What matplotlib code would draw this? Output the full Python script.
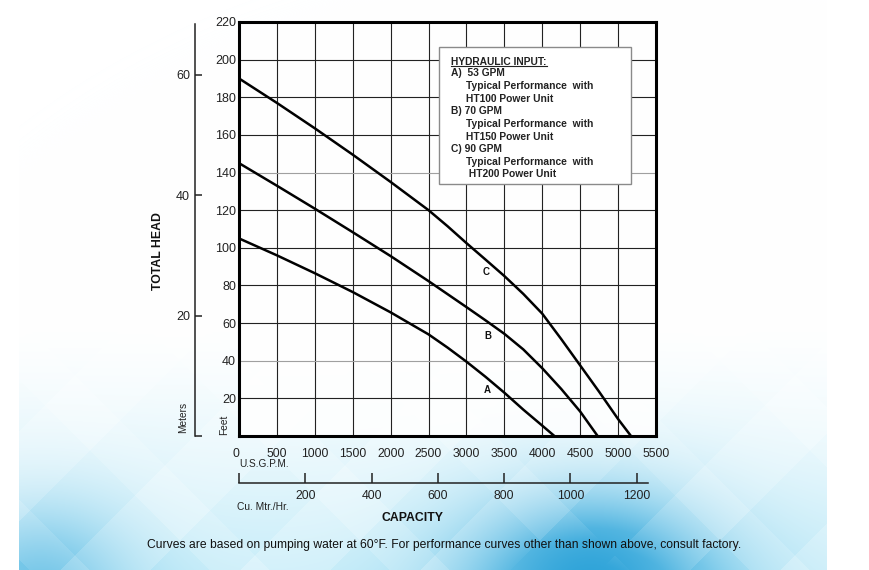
import numpy as np
import matplotlib
matplotlib.use("Agg")
import matplotlib.pyplot as plt
from matplotlib.lines import Line2D
from matplotlib.patches import Rectangle

# ---------------- data ----------------
gpm_ticks = [0, 500, 1000, 1500, 2000, 2500, 3000, 3500, 4000, 4500, 5000, 5500]
feet_ticks = [20, 40, 60, 80, 100, 120, 140, 160, 180, 200, 220]
meter_ticks = [0, 20, 40, 60]
m3h_ticks = [0, 200, 400, 600, 800, 1000, 1200]

curve_a_gpm = [0, 500, 1000, 1500, 2000, 2500, 2750, 3000, 3250, 3500, 3750, 4000, 4160]
curve_a_ft = [105, 96, 86.5, 76.5, 65.7, 54, 47, 39.5, 31.5, 23, 14, 5.5, 0]

curve_b_gpm = [0, 500, 1000, 1500, 2000, 2500, 2750, 3000, 3250, 3500, 3750, 4000, 4250, 4500, 4730]
curve_b_ft = [145, 133, 120.8, 108.3, 95.6, 82.3, 75.4, 68.5, 61.5, 54.3, 46, 36, 25, 13, 0]

curve_c_gpm = [0, 500, 1000, 1500, 2000, 2500, 2750, 3000, 3250, 3500, 3750, 4000, 4250, 4500, 4750, 5000, 5170]
curve_c_ft = [190, 177, 163.5, 149.5, 135, 120, 111.5, 102.5, 93.8, 85, 75.5, 65, 51.5, 37.5, 23.5, 9, 0]

curve_labels = ["A", "B", "C"]
label_pos_gpm = [3280, 3280, 3265]
label_pos_ft = [24.4, 53, 87.3]

legend_title = "HYDRAULIC INPUT:"
legend_lines = ["A)  53 GPM", "Typical Performance  with", "HT100 Power Unit",
                "B) 70 GPM", "Typical Performance  with", "HT150 Power Unit",
                "C) 90 GPM", "Typical Performance  with", " HT200 Power Unit"]
legend_indent = [0, 1, 1, 0, 1, 1, 0, 1, 1]

footer = ("Curves are based on pumping water at 60\u00b0F. For performance curves "
          "other than shown above, consult factory.")

# secondary-scale ranges as drawn in the original chart
meter_axis_max = 68.8
m3h_axis_max = 1258.5

# ---------------- figure ----------------
plt.rcParams['font.family'] = ['Liberation Sans', 'DejaVu Sans']
W, H = 870, 570
fig = plt.figure(figsize=(W / 100, H / 100), dpi=100)
fig.patch.set_facecolor('white')

# background decorative gradient
bg = fig.add_axes([0, 0, 1, 1], zorder=-10)
bg.axis('off')
yy, xx = np.mgrid[0:H, 0:W].astype(float)
t = np.clip((yy - 320) / 250, 0, 1) ** 1.3
d1 = (xx + yy) % 180
d2 = (xx - yy) % 180
pat = 0.8 + 0.2 * ((d1 < 90).astype(float)) - 0.15 * ((d2 < 60).astype(float))
s = np.exp(-(((xx - 590) / 95) ** 2 + ((yy - 585) / 75) ** 2) / 2)
s2 = np.exp(-(((xx - 40) / 70) ** 2 + ((yy - 575) / 70) ** 2) / 2)
k = np.clip(s + 0.5 * s2, 0, 1)
c1 = np.array([0.72, 0.91, 0.97])
c2 = np.array([0.18, 0.64, 0.85])
col = c1[None, None, :] * (1 - k[..., None]) + c2[None, None, :] * k[..., None]
a = np.clip(t * 0.75 * pat + 0.55 * s + 0.3 * s2 * t, 0, 1)
a[(xx < 19) | (xx > 826)] = 0
rgb = np.ones((H, W, 3)) * (1 - a[..., None]) + col * a[..., None]
bg.imshow(rgb, extent=(0, W, H, 0), aspect='auto')
bg.set_xlim(0, W)
bg.set_ylim(H, 0)

L, R, T, B = 239, 656, 22, 436
ax = fig.add_axes([L / W, 1 - B / H, (R - L) / W, (B - T) / H])
ax.set_facecolor((1, 1, 1, 0.85))
ax.set_xlim(0, 5500)
ax.set_ylim(0, 220)
ax.set_xticks(gpm_ticks)
ax.set_yticks(feet_ticks)
ax.set_xticklabels([str(v) for v in gpm_ticks])
ax.set_yticklabels([str(v) for v in feet_ticks])
ax.tick_params(axis='both', length=0, labelsize=9, colors='#222222')
ax.tick_params(axis='x', pad=8.3, labelsize=8.8)
ax.tick_params(axis='y', pad=2.2)
ax.get_xticklabels()[0].set_ha('right')
ax.grid(True, color='#222222', lw=0.8)
for v, gl in zip(feet_ticks, ax.get_ygridlines()):
    if v in (40, 140):
        gl.set_color('#a0a0a0')
for sp in ax.spines.values():
    sp.set_linewidth(2.2)
    sp.set_color('black')
ax.set_axisbelow(True)

ax.plot(curve_a_gpm, curve_a_ft, color='black', lw=1.8, solid_capstyle='butt', zorder=3)
ax.plot(curve_b_gpm, curve_b_ft, color='black', lw=1.8, solid_capstyle='butt', zorder=3)
ax.plot(curve_c_gpm, curve_c_ft, color='black', lw=1.8, solid_capstyle='butt', zorder=3)
for lab, gx, fy in zip(curve_labels, label_pos_gpm, label_pos_ft):
    ax.text(gx, fy, lab, fontsize=7, fontweight='bold', ha='center', va='center', color='#111111')

# legend box
def afx(px):
    return (px - L) / (R - L)

def afy(py):
    return (B - py) / (B - T)

ax.add_patch(Rectangle((afx(439), afy(184)), afx(631) - afx(439), afy(47.3) - afy(184),
                       transform=ax.transAxes, facecolor='white', edgecolor='#8a8a8a',
                       lw=1.0, zorder=5))
ax.text(afx(451), afy(61.7), legend_title, transform=ax.transAxes, fontsize=7.4,
        fontweight='bold', ha='left', va='center', color='#222222', zorder=6)
ax.add_line(Line2D([afx(451), afx(547)], [afy(66.3), afy(66.3)], transform=ax.transAxes,
                   color='#222222', lw=0.8, zorder=6))
ys = [73.3, 86, 98.7, 111.3, 124, 136.7, 149, 161.7, 174.3]
for txt, ind, yp in zip(legend_lines, legend_indent, ys):
    ax.text(afx(466 if ind else 451), afy(yp), txt, transform=ax.transAxes, fontsize=7.4,
            fontweight='bold', ha='left', va='center', color='#222222', zorder=6)

# meters axis
axm = ax.twinx()
axm.set_ylim(0, meter_axis_max)
axm.yaxis.set_ticks_position('left')
axm.yaxis.set_label_position('left')
for name in ('top', 'bottom', 'right'):
    axm.spines[name].set_visible(False)
axm.spines['left'].set_position(('outward', 44 * 0.72))
axm.spines['left'].set_bounds(0, meter_axis_max * 412 / 414)
axm.spines['left'].set_linewidth(1.1)
axm.spines['left'].set_color('#222222')
axm.set_yticks(meter_ticks)
axm.set_yticklabels(['' if v == 0 else str(v) for v in meter_ticks])
axm.tick_params(axis='y', direction='in', length=5, width=1.1, pad=3.6,
                labelsize=9, colors='#222222')

# cubic meters per hour axis
axc = ax.twiny()
axc.set_xlim(0, m3h_axis_max)
axc.xaxis.set_ticks_position('bottom')
axc.xaxis.set_label_position('bottom')
for name in ('top', 'left', 'right'):
    axc.spines[name].set_visible(False)
axc.spines['bottom'].set_position(('outward', 47 * 0.72))
axc.spines['bottom'].set_bounds(0, m3h_axis_max * 409 / 417)
axc.spines['bottom'].set_linewidth(1.1)
axc.spines['bottom'].set_color('#222222')
axc.set_xticks(m3h_ticks)
axc.set_xticklabels(['' if v == 0 else str(v) for v in m3h_ticks])
axc.tick_params(axis='x', direction='in', length=7.2, width=1.1, pad=5.0,
                labelsize=8.8, colors='#222222')

# figure texts
def ftext(x, y, s, **kw):
    fig.text(x / W, 1 - y / H, s, **kw)

ftext(158, 251, "TOTAL HEAD", rotation=90, fontsize=8.8, fontweight='bold',
      ha='center', va='center', color='#111111')
ftext(182.7, 417.3, "Meters", rotation=90, fontsize=7.3, ha='center', va='center', color='#222222')
ftext(224.3, 425, "Feet", rotation=90, fontsize=7.3, ha='center', va='center', color='#222222')
ftext(239, 464, "U.S.G.P.M.", fontsize=7.3, ha='left', va='center', color='#222222')
ftext(237, 507, "Cu. Mtr./Hr.", fontsize=7.4, ha='left', va='center', color='#222222')
ftext(413, 518, "CAPACITY", fontsize=8.8, fontweight='bold', ha='center', va='center', color='#111111')
ftext(444.5, 545, footer, fontsize=8.7, ha='center', va='center', color='#111111')

fig.savefig("out.png", dpi=100)
